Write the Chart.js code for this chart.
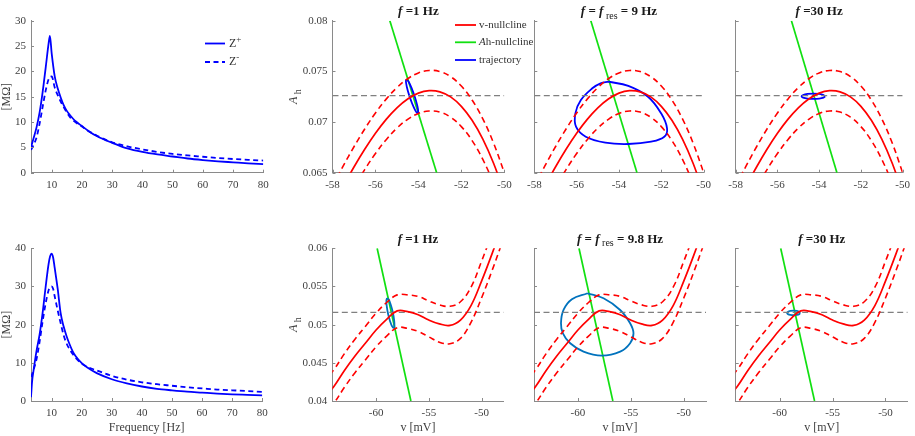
<!DOCTYPE html>
<html><head><meta charset="utf-8">
<script src="https://cdn.jsdelivr.net/npm/chart.js@4"></script>
<style>
html,body{margin:0;padding:0;background:#fff;}
#wrap{position:relative;width:915px;height:436px;overflow:hidden;background:#fff;}
canvas{position:absolute;}
</style></head><body><div id="wrap"></div>
<script>
// ---------------- data ----------------
const freqTop = [3.15,4,5,6,7,8,9,9.4,10,11,12,13,14,15,16,17,18,20,22,25,30,35,40,45,50,55,60,65,70,75,80];
const zPlusTop = [5.0,6.8,9.0,11.9,15.9,20.7,25.6,27.0,23.5,19.0,16.6,14.8,13.3,12.2,11.4,10.7,10.1,9.2,8.3,7.2,5.9,4.8,4.1,3.6,3.2,2.8,2.5,2.25,2.05,1.85,1.7];
const zMinusTop = [4.5,5.5,7.0,9.7,13.0,16.2,18.5,18.9,19.0,16.8,15.3,14.0,12.9,11.9,11.0,10.4,9.9,9.1,8.3,7.3,6.0,5.2,4.6,4.1,3.7,3.4,3.15,2.9,2.7,2.55,2.4];

const freqBot = [3.15,3.5,4,5,6,7,8,9,9.5,10,10.5,11,12,13,14,15,16,17,18,20,22,25,30,35,40,45,50,55,60,65,70,75,80];
const zPlusBot = [1.0,5.0,8.0,13.2,17.4,23.0,29.8,35.9,37.9,38.6,37.6,35.0,29.5,23.0,19.5,16.9,14.8,13.0,11.7,9.9,8.7,7.3,5.7,4.6,3.8,3.2,2.8,2.45,2.2,1.95,1.75,1.6,1.45];
const zMinusBot = [6.3,7.0,8.2,11.0,15.5,20.8,25.5,29.0,29.8,30.0,29.4,27.5,23.8,20.4,17.2,15.0,13.5,12.3,11.3,9.8,8.9,8.0,6.6,5.6,4.9,4.4,4.0,3.6,3.3,3.0,2.8,2.6,2.4];

const freqTicks = [10,20,30,40,50,60,70,80];
const zTicksTop = [0,5,10,15,20,25,30];
const zTicksBot = [0,10,20,30,40];

// top row phase plane
const vTop = [-58,-57.5,-57,-56.5,-56,-55.5,-55,-54.5,-54,-53.5,-53,-52.5,-52,-51.5,-51,-50.5,-50];
const vNullTop   = [0.06167,0.06367,0.06556,0.06731,0.06889,0.07026,0.07140,0.07227,0.07285,0.07309,0.07298,0.07248,0.07155,0.07017,0.06831,0.06593,0.06300];
const vNullTopHi = [0.06367,0.06567,0.06756,0.06931,0.07089,0.07226,0.07340,0.07427,0.07485,0.07509,0.07498,0.07448,0.07355,0.07217,0.07031,0.06793,0.06500];
const vNullTopLo = [0.05967,0.06167,0.06356,0.06531,0.06689,0.06826,0.06940,0.07027,0.07085,0.07109,0.07098,0.07048,0.06955,0.06817,0.06631,0.06393,0.06100];
const ahNullTopV = [-55.33,-53.15];
const ahNullTopA = [0.080,0.065];
const restTopA = 0.0726;
const trajTop1V = [-54.550,-54.449,-54.307,-54.162,-54.052,-54.008,-54.040,-54.141,-54.283,-54.428,-54.538,-54.582];
const trajTop1A = [0.07422,0.07395,0.07330,0.07245,0.07162,0.07104,0.07086,0.07113,0.07178,0.07263,0.07346,0.07404];
const trajTop2V = [-54.49,-53.56,-52.63,-52.01,-51.73,-51.86,-52.48,-53.56,-54.64,-55.57,-56.03,-56.06,-55.80,-55.26,-54.87];
const trajTop2A = [0.07398,0.07356,0.07250,0.07086,0.06938,0.06855,0.06806,0.06783,0.06796,0.06855,0.06954,0.07086,0.07217,0.07333,0.07382];
const trajTop3V = [-53.715,-53.79,-54.00,-54.28,-54.56,-54.77,-54.845,-54.77,-54.56,-54.28,-54.00,-53.79];
const trajTop3A = [0.07254,0.07267,0.07277,0.07280,0.07277,0.07267,0.07254,0.07241,0.07231,0.07228,0.07231,0.07241];
const vTicksTop = [-58,-56,-54,-52,-50];
const aTicksTop = [0.065,0.07,0.075,0.08];
const aLabelsTop = ['0.065','0.07','0.075','0.08'];

// bottom row phase plane
const vBot = [-65,-64,-63,-62,-61,-60,-59,-58,-57,-56,-55,-54,-53,-52,-51,-50,-49,-48,-47];
const vNullBot   = [0.0402,0.0419,0.0440,0.0459,0.0476,0.0493,0.0507,0.0518,0.0517,0.0513,0.0506,0.0501,0.0499,0.0506,0.0525,0.0557,0.0593,0.0632,0.0675];
const vNullBotHi = [0.0424,0.0441,0.0462,0.0481,0.0498,0.0515,0.0529,0.0539,0.0539,0.0537,0.0531,0.0526,0.0524,0.0530,0.0549,0.0583,0.0620,0.0659,0.0700];
const vNullBotLo = [0.0380,0.0397,0.0418,0.0437,0.0454,0.0471,0.0485,0.0496,0.0495,0.0491,0.0484,0.0477,0.0475,0.0482,0.0503,0.0535,0.0571,0.0610,0.0653];
const ahNullBotV = [-59.9,-56.7];
const ahNullBotA = [0.060,0.040];
const restBotA = 0.0516;
const trajBot1V = [-58.95,-58.79,-58.60,-58.41,-58.29,-58.26,-58.33,-58.49,-58.68,-58.87,-58.99,-59.02];
const trajBot1A = [0.05349,0.05326,0.05257,0.05160,0.05061,0.04987,0.04958,0.04980,0.05049,0.05146,0.05245,0.05319];
const trajBot2V = [-59.09,-57.58,-56.01,-55.07,-54.75,-55.07,-56.01,-57.74,-59.47,-60.73,-61.42,-61.60,-61.36,-60.57];
const trajBot2A = [0.05411,0.05345,0.05192,0.05018,0.04887,0.04756,0.04646,0.04594,0.04646,0.04756,0.04887,0.05018,0.05192,0.05332];
const trajBot3V = [-58.065,-58.15,-58.37,-58.68,-58.99,-59.21,-59.295,-59.21,-58.99,-58.68,-58.37,-58.15];
const trajBot3A = [0.05153,0.05168,0.05179,0.05183,0.05179,0.05168,0.05153,0.05138,0.05127,0.05123,0.05127,0.05138];
const vTicksBot = [-60,-55,-50];
const aTicksBot = [0.04,0.045,0.05,0.055,0.06];
const aLabelsBot = ['0.04','0.045','0.05','0.055','0.06'];

// ---------------- drawing ----------------
const SERIF = '"Liberation Serif","Times New Roman",serif';
Chart.defaults.font.family = SERIF;
Chart.defaults.font.size = 11;
Chart.defaults.color = '#404040';
const AXIS = '#8a8a8a';
const RED = '#ff0000', GREEN = '#11e011', BLUE = '#0000ff', SBLUE = '#0072bd', GRAY = '#808080';
const wrap = document.getElementById('wrap');

function pts(xs, ys){ return xs.map((x,i)=>({x:x, y:ys[i]})); }
function closed(xs, ys){ const p = pts(xs, ys); p.push({x:p[0].x, y:p[0].y}); return p; }

function drawRich(ctx, parts, x, y, align){
  let w = 0;
  parts.forEach(p=>{ ctx.font = p.f; p.w = ctx.measureText(p.t).width; w += p.w; });
  let cx = align === 'center' ? x - w/2 : x;
  ctx.textBaseline = 'middle'; ctx.textAlign = 'left';
  parts.forEach(p=>{ ctx.font = p.f; ctx.fillText(p.t, cx, y + (p.dy||0)); cx += p.w; });
}
const F = (s)=> s + ' ' + SERIF;

const decoPlugin = {
  id:'deco',
  afterDraw(chart, args, o){
    const ctx = chart.ctx, ca = chart.chartArea;
    const xs = chart.scales.x, ys = chart.scales.y;
    ctx.save();
    ctx.strokeStyle = AXIS; ctx.lineWidth = 1; ctx.setLineDash([]);
    ctx.beginPath();
    xs.ticks.forEach(t=>{ const p = Math.round(xs.getPixelForValue(t.value)) + 0.5; ctx.moveTo(p, ca.bottom); ctx.lineTo(p, ca.bottom - 3); });
    ys.ticks.forEach(t=>{ const p = Math.round(ys.getPixelForValue(t.value)) + 0.5; ctx.moveTo(ca.left, p); ctx.lineTo(ca.left + 3, p); });
    ctx.stroke();
    ctx.translate(-o.ox, -o.oy);
    const cx = (ca.left + ca.right)/2 + o.ox, cy = (ca.top + ca.bottom)/2 + o.oy;
    ctx.fillStyle = '#1a1a1a';
    if (o.title) drawRich(ctx, o.title, cx, o.titleY, 'center');
    ctx.fillStyle = '#404040';
    if (o.xTitle) drawRich(ctx, o.xTitle, cx, o.xTitleY, 'center');
    if (o.yTitle){ ctx.save(); ctx.translate(o.yTitleX, cy); ctx.rotate(-Math.PI/2); drawRich(ctx, o.yTitle, 0, 0, 'center'); ctx.restore(); }
    if (o.legend){
      o.legend.forEach(it=>{
        ctx.strokeStyle = it.color; ctx.lineWidth = it.width || 1.6; ctx.setLineDash(it.dash || []);
        ctx.beginPath(); ctx.moveTo(it.x0, it.y); ctx.lineTo(it.x1, it.y); ctx.stroke();
        ctx.setLineDash([]);
        ctx.fillStyle = '#333';
        drawRich(ctx, it.label, it.tx, it.y, 'left');
      });
    }
    ctx.restore();
  }
};

function makePanel(cfg){
  const c = document.createElement('canvas');
  const cl = Math.floor(cfg.plotLeft - cfg.padL), ct = Math.floor(cfg.plotTop - cfg.padT);
  const padL = cfg.plotLeft - cl, padT = cfg.plotTop - ct;
  const W = Math.ceil(padL + cfg.plotW + cfg.padR), H = Math.ceil(padT + cfg.plotH + cfg.padB);
  c.width = W; c.height = H;
  c.style.left = cl + 'px'; c.style.top = ct + 'px';
  c.style.width = W + 'px'; c.style.height = H + 'px';
  wrap.appendChild(c);
  const xH = H - padT - cfg.plotH;
  new Chart(c, {
    type:'scatter',
    data:{ datasets: cfg.datasets },
    options:{
      responsive:false, animation:false, devicePixelRatio:1,
      layout:{ autoPadding:false, padding:{ left:0, top:padT, right:W - padL - cfg.plotW, bottom:0 } },
      elements:{ point:{ radius:0, hoverRadius:0 } },
      plugins:{ legend:{display:false}, tooltip:{enabled:false}, deco:Object.assign({ox:cl, oy:ct}, cfg.deco) },
      scales:{
        x:{ type:'linear', min:cfg.xMin, max:cfg.xMax,
            grid:{display:false, drawTicks:false}, border:{display:true, color:AXIS, width:1},
            afterBuildTicks:(s)=>{ s.ticks = cfg.xTicks.map(v=>({value:v})); },
            afterFit:(s)=>{ s.height = xH; },
            ticks:{ padding:6, autoSkip:false, maxRotation:0, color:'#404040', font:{size:11},
                    callback:(v,i)=> cfg.xLabels ? cfg.xLabels[i] : String(cfg.xTicks[i]) } },
        y:{ type:'linear', min:cfg.yMin, max:cfg.yMax,
            grid:{display:false, drawTicks:false}, border:{display:true, color:AXIS, width:1},
            afterBuildTicks:(s)=>{ s.ticks = cfg.yTicks.map(v=>({value:v})); },
            afterFit:(s)=>{ s.width = padL; },
            ticks:{ padding:5, autoSkip:false, color:'#404040', font:{size:11},
                    callback:(v,i)=> cfg.yLabels ? cfg.yLabels[i] : '' } }
      }
    },
    plugins:[decoPlugin]
  });
}

function lineDs(data, color, width, dash, smooth){
  return { data:data, showLine:true, borderColor:color, backgroundColor:color, borderWidth:width,
           borderDash:dash||[], pointRadius:0, fill:false,
           tension: smooth === 'mono' ? 0 : (smooth || 0),
           cubicInterpolationMode: smooth === 'mono' ? 'monotone' : 'default' };
}

// ---- left column: impedance ----
const zLegend = [
  {x0:205, x1:225, y:43.5, color:BLUE, width:1.8, label:[{t:'Z',f:F('12px')},{t:'+',f:F('9px'),dy:-4}], tx:229},
  {x0:205, x1:225, y:62, color:BLUE, width:1.8, dash:[5,3.5], label:[{t:'Z',f:F('12px')},{t:'-',f:F('9px'),dy:-4}], tx:229}
];
makePanel({ plotLeft:31, plotTop:20.7, plotW:232.3, plotH:152, padL:31, padT:20.7, padR:25, padB:30,
  xMin:3.15, xMax:80, xTicks:freqTicks, yMin:0, yMax:30, yTicks:zTicksTop, yLabels:zTicksTop.map(String),
  datasets:[ lineDs(pts(freqTop, zMinusTop), BLUE, 1.8, [5,3.5], 'mono'), lineDs(pts(freqTop, zPlusTop), BLUE, 1.8, [], 'mono') ],
  deco:{ yTitle:[{t:'[MΩ]', f:F('12px')}], yTitleX:7, legend:zLegend } });

makePanel({ plotLeft:31, plotTop:248.3, plotW:231.3, plotH:152.7, padL:31, padT:38.3, padR:25, padB:35,
  xMin:3.15, xMax:80, xTicks:freqTicks, yMin:0, yMax:40, yTicks:zTicksBot, yLabels:zTicksBot.map(String),
  datasets:[ lineDs(pts(freqBot, zMinusBot), BLUE, 1.8, [5,3.5], 'mono'), lineDs(pts(freqBot, zPlusBot), BLUE, 1.8, [], 'mono') ],
  deco:{ yTitle:[{t:'[MΩ]', f:F('12px')}], yTitleX:7, xTitle:[{t:'Frequency [Hz]', f:F('12px')}], xTitleY:428 } });

// ---- phase planes ----
const ahTitle = [{t:'A', f:F('italic 12px')},{t:' h', f:F('10px'), dy:4}];
const titleOne = [{t:'f', f:F('italic bold 13px')},{t:' =1 Hz', f:F('bold 13px')}];
const titleThirty = [{t:'f', f:F('italic bold 13px')},{t:' =30 Hz', f:F('bold 13px')}];
const titleRes = (s)=>[{t:'f', f:F('italic bold 13px')},{t:' = ', f:F('bold 13px')},{t:'f', f:F('italic bold 13px')},
  {t:' res', f:F('10px'), dy:4},{t:' = '+s+' Hz', f:F('bold 13px')}];
const phaseLegend = [
  {x0:455, x1:476, y:25, color:RED, width:1.8, label:[{t:'v-nullcline', f:F('11px')}], tx:479},
  {x0:455, x1:476, y:42.3, color:GREEN, width:1.8, label:[{t:'A', f:F('italic 11px')},{t:'h-nullcline', f:F('11px')}], tx:479},
  {x0:455, x1:476, y:60, color:BLUE, width:1.8, label:[{t:'trajectory', f:F('11px')}], tx:479}
];

function phaseSets(vx, mid, hi, lo, gV, gA, rest, xr, traj, tcol){
  return [
    lineDs(pts(vx, hi), RED, 1.6, [6,4], 0.4),
    lineDs(pts(vx, lo), RED, 1.6, [6,4], 0.4),
    lineDs(pts(vx, mid), RED, 1.7, [], 0.4),
    lineDs(pts(xr, [rest, rest]), GRAY, 1.3, [6,3.5], 0),
    lineDs(traj, tcol, 1.8, [], 0.4),
    lineDs(pts(gV, gA), GREEN, 1.7, [], 0)
  ];
}

const topCols = [
  {left:332.5, w:171.8, padL:47, padR:45, title:titleOne, traj:closed(trajTop1V, trajTop1A), legend:phaseLegend, yl:aLabelsTop, yt:ahTitle},
  {left:534.3, w:172.4, padL:14, padR:10, title:titleRes('9'), traj:closed(trajTop2V, trajTop2A)},
  {left:735.7, w:172.0, padL:14, padR:7.3, title:titleThirty, traj:closed(trajTop3V, trajTop3A)}
];
topCols.forEach(c=>{
  makePanel({ plotLeft:c.left, plotTop:20.7, plotW:c.w, plotH:152, padL:c.padL, padT:20.7, padR:c.padR, padB:30,
    xMin:-58, xMax:-50, xTicks:vTicksTop, yMin:0.065, yMax:0.08, yTicks:aTicksTop, yLabels:c.yl,
    datasets: phaseSets(vTop, vNullTop, vNullTopHi, vNullTopLo, ahNullTopV, ahNullTopA, restTopA, [-58,-50], c.traj, BLUE),
    deco:{ title:c.title, titleY:12, yTitle:c.yt, yTitleX:294, legend:c.legend } });
});

const botCols = [
  {left:332.3, w:171.4, padL:47, padR:10, title:titleOne, traj:closed(trajBot1V, trajBot1A), yl:aLabelsBot, yt:ahTitle},
  {left:534.0, w:172.0, padL:14, padR:10, title:titleRes('9.8'), traj:closed(trajBot2V, trajBot2A)},
  {left:735.7, w:172.0, padL:14, padR:7.3, title:titleThirty, traj:closed(trajBot3V, trajBot3A)}
];
botCols.forEach(c=>{
  makePanel({ plotLeft:c.left, plotTop:248.3, plotW:c.w, plotH:152.7, padL:c.padL, padT:38.3, padR:c.padR, padB:35,
    xMin:-64.15, xMax:-47.9, xTicks:vTicksBot, yMin:0.04, yMax:0.06, yTicks:aTicksBot, yLabels:c.yl,
    datasets: phaseSets(vBot, vNullBot, vNullBotHi, vNullBotLo, ahNullBotV, ahNullBotA, restBotA, [-64.15,-47.9], c.traj, SBLUE),
    deco:{ title:c.title, titleY:239.5, yTitle:c.yt, yTitleX:294, xTitle:[{t:'v [mV]', f:F('12px')}], xTitleY:428 } });
});
</script>
</body></html>
